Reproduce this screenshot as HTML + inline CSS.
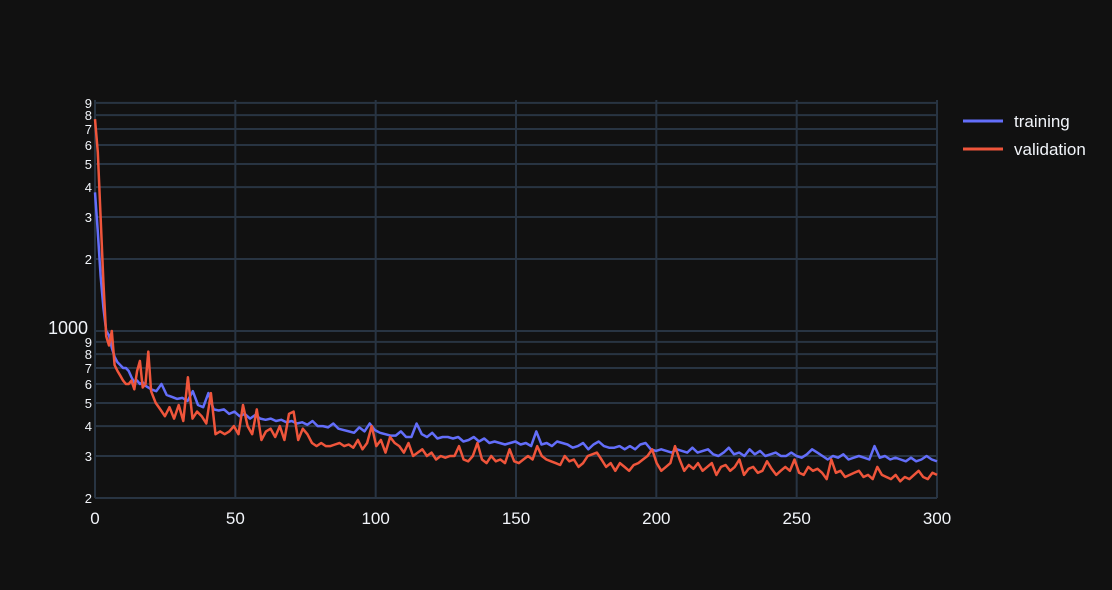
<!DOCTYPE html>
<html><head><meta charset="utf-8"><style>
body{margin:0;background:#111111;}
svg{display:block;font-family:"Liberation Sans",sans-serif;}
</style></head><body>
<svg id="chart" width="1112" height="590">
<rect width="1112" height="590" fill="#111111"/>
<g id="grid"></g><g id="ticks"></g><g id="series"></g>
<g>
<line x1="963" y1="121" x2="1003" y2="121" stroke="#636efa" stroke-width="3"/>
<text x="1014" y="127" fill="#f2f5fa" font-size="17">training</text>
<line x1="963" y1="149" x2="1003" y2="149" stroke="#EF553B" stroke-width="3"/>
<text x="1014" y="155" fill="#f2f5fa" font-size="17">validation</text>
</g>
</svg>
<script>
const xTicks=[0,50,100,150,200,250,300];
const yMajor=[1000];
const yMinor=[200,300,400,500,600,700,800,900,2000,3000,4000,5000,6000,7000,8000,9000];
const training=[3800,2600,1700,1250,1000,960,850,780,740,720,700,700,680,640,610,620,600,610,590,580,570,
560,600,540,530,520,525,510,560,490,480,550,470,465,470,450,460,440,450,430,445,430,425,430,420,425,415,420,410,415,405,420,400,400,395,410,390,385,380,375,395,380,410,385,375,370,365,365,380,360,360,410,370,360,375,355,360,360,355,360,345,350,360,345,355,340,345,340,335,340,345,335,340,330,380,335,340,330,345,340,335,325,330,340,320,335,345,330,325,325,330,320,330,320,335,340,320,315,320,315,310,320,315,310,325,310,315,320,305,300,310,325,305,310,300,320,305,315,300,305,310,300,300,310,300,295,305,320,310,300,290,300,295,305,290,295,300,295,290,330,295,300,290,295,290,285,295,285,290,300,290,285];
const validation=[7700,5600,3000,1600,950,870,1000,720,680,650,620,600,600,620,570,680,750,580,600,820,560,
500,470,440,480,430,490,420,640,430,460,440,410,550,370,380,370,380,400,370,490,400,370,470,350,380,390,360,400,350,450,460,350,390,370,340,330,340,330,330,335,340,330,335,325,350,320,340,400,330,350,310,360,340,330,310,340,300,310,320,300,310,290,300,295,300,300,330,290,285,300,340,290,280,300,285,290,280,320,285,280,290,300,290,330,300,290,285,280,275,300,285,290,270,280,300,305,310,290,270,280,260,280,270,260,275,280,290,300,320,280,260,270,280,330,290,260,275,265,280,260,270,280,250,270,275,260,270,290,250,265,270,255,260,285,265,250,260,270,260,290,255,250,270,260,265,255,240,290,255,260,245,250,255,260,245,250,240,270,250,245,240,250,235,245,240,250,260,245,240,255,250];
const X=v=>95+(v/300)*842;
const Y=v=>331-239*Math.log10(v/1000);
const NS="http://www.w3.org/2000/svg";
function mk(t,a,p){const e=document.createElementNS(NS,t);for(const k in a)e.setAttribute(k,a[k]);document.getElementById(p).appendChild(e);return e;}
xTicks.forEach(t=>{
 const l=mk('line',{x1:X(t),x2:X(t),y1:100,y2:498,stroke:'#283442','stroke-width':2},'grid');
 
 
 const s=mk('text',{x:X(t),y:524,fill:'#f2f5fa','font-size':17,'text-anchor':'middle'},'ticks');s.textContent=t;
 
 
});
yMinor.concat(yMajor).forEach(v=>{
 const l=mk('line',{x1:95,x2:937,y1:Y(v),y2:Y(v),stroke:'#283442','stroke-width':2},'grid');
 
 
 const major=yMajor.includes(v);
 const s=mk('text',{x:major?88:92,y:Y(v)+(major?3:5),fill:'#f2f5fa','font-size':major?18:13,'text-anchor':'end'},'ticks');
 s.textContent=major?String(v):String(v/Math.pow(10,Math.floor(Math.log10(v))));
 
 
});
function epochs(n){return Array.from({length:n},(_,i)=>i<=20?i:20+(i-20)*280/(n-21));}
[[training,'#636efa','training'],[validation,'#EF553B','validation']].forEach(([d,c,nm])=>{
 const ep=epochs(d.length);
 const p=mk('path',{d:d.map((v,i)=>(i?'L':'M')+X(ep[i]).toFixed(1)+','+Y(v).toFixed(1)).join(''),fill:'none',stroke:c,'stroke-width':2.5,'stroke-linejoin':'round'},'series');
 
 
});
</script>
</body></html>
